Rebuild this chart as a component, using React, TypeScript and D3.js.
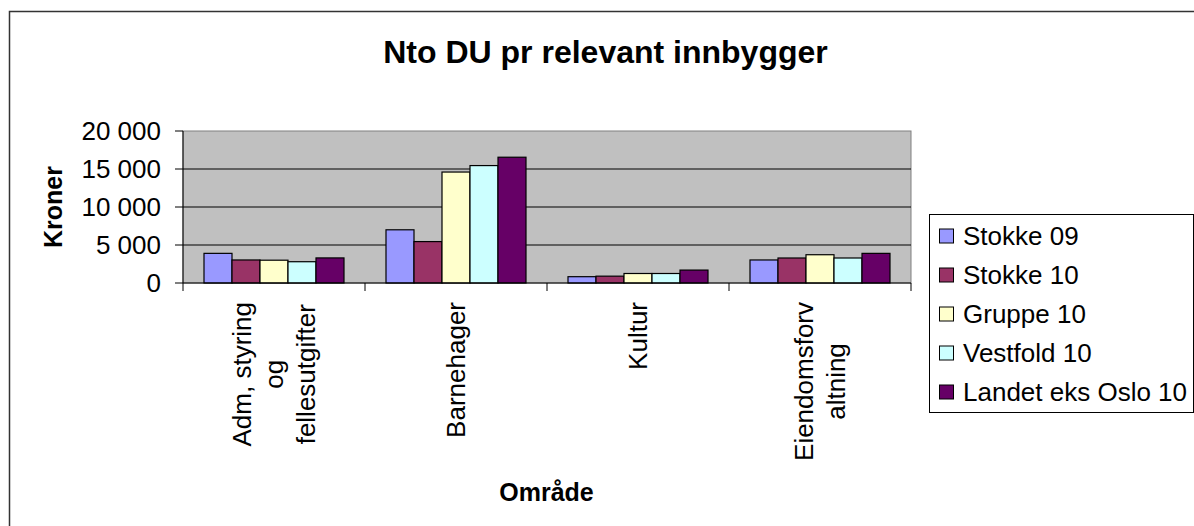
import React from "react";
import * as d3 from "d3";

const title = "Nto DU pr relevant innbygger";
const yAxisTitle = "Kroner";
const xAxisTitle = "Område";

const categories = ["Adm, styring og fellesutgifter", "Barnehager", "Kultur", "Eiendomsforvaltning"];
const categoryLabelLines = [
  ["Adm, styring", "og", "fellesutgifter"],
  ["Barnehager"],
  ["Kultur"],
  ["Eiendomsforv", "altning"],
];

const seriesNames = ["Stokke 09", "Stokke 10", "Gruppe 10", "Vestfold 10", "Landet eks Oslo 10"];
const seriesColors = ["#9999FF", "#993366", "#FFFFCC", "#CCFFFF", "#660066"];

const stokke09 = [3900, 7000, 830, 3030];
const stokke10 = [3030, 5450, 900, 3290];
const gruppe10 = [3000, 14600, 1250, 3720];
const vestfold10 = [2800, 15450, 1250, 3290];
const landet10 = [3300, 16550, 1700, 3900];

const seriesValues = [stokke09, stokke10, gruppe10, vestfold10, landet10];

const yTickValues = [0, 5000, 10000, 15000, 20000];
const yDomain = [0, 20000];

const FONT = "'Liberation Sans', Arial, sans-serif";

function measure(text: string, size: number, bold = false): number {
  const c = document.createElement("canvas").getContext("2d");
  if (!c) return text.length * size * 0.5;
  c.font = `${bold ? "bold " : ""}${size}px ${FONT}`;
  return c.measureText(text).width;
}

export default function App() {
  const W = 1194;
  const H = 526;
  const plot = { left: 183, right: 911, top: 131, bottom: 283 };

  const x = d3.scaleBand<string>().domain(categories).range([plot.left, plot.right]).paddingInner(0).paddingOuter(0);
  const xInner = d3
    .scaleBand<string>()
    .domain(seriesNames)
    .range([0, x.bandwidth()])
    .paddingInner(0)
    .paddingOuter(0.75);
  const y = d3.scaleLinear().domain(yDomain).range([plot.bottom, plot.top]);

  const fmt = (v: number) => d3.format(",")(v).replace(/,/g, " ");

  const labelSize = 26;
  const boundaries = categories.map((c) => x(c) as number).concat([plot.right]);

  const legend = { x: 929.5, y: 214.5, w: 264, h: 198 };

  return (
    <svg
      width={W}
      height={H}
      style={{ position: "absolute", left: 0, top: 0, background: "#fff" }}
      fontFamily={FONT}
    >
      <rect x={0} y={0} width={W} height={H} fill="#fff" />
      {/* outer chart frame */}
      <rect x={9.5} y={11.5} width={W + 20} height={H + 20} fill="none" stroke="#333" strokeWidth={1.5} />

      {/* title */}
      <text x={605.5} y={63} textAnchor="middle" fontSize={32} fontWeight="bold" fill="#000">
        {title}
      </text>

      {/* plot area */}
      <rect
        x={plot.left}
        y={plot.top}
        width={plot.right - plot.left}
        height={plot.bottom - plot.top}
        fill="#C0C0C0"
        stroke="#808080"
        strokeWidth={1}
      />
      {yTickValues
        .filter((v) => v > 0 && v < yDomain[1])
        .map((v) => (
          <line key={"g" + v} x1={plot.left} x2={plot.right} y1={y(v)} y2={y(v)} stroke="#000" strokeWidth={1} />
        ))}

      {/* bars */}
      {categories.map((c, ci) => (
        <g key={c}>
          {seriesNames.map((s, si) => {
            const v = seriesValues[si][ci];
            const bx = (x(c) as number) + (xInner(s) as number);
            return (
              <rect
                key={s}
                x={bx}
                y={y(v)}
                width={xInner.bandwidth()}
                height={y(0) - y(v)}
                fill={seriesColors[si]}
                stroke="#000"
                strokeWidth={1.2}
              />
            );
          })}
        </g>
      ))}

      {/* y axis */}
      <line x1={plot.left} x2={plot.left} y1={plot.top} y2={plot.bottom} stroke="#000" />
      {yTickValues.map((v) => (
        <g key={"t" + v}>
          <line x1={plot.left - 8} x2={plot.left} y1={y(v)} y2={y(v)} stroke="#000" />
          <text x={161} y={y(v)} dy="0.35em" textAnchor="end" fontSize={labelSize} fill="#000">
            {fmt(v)}
          </text>
        </g>
      ))}
      <text
        transform={`translate(61.5, ${(plot.top + plot.bottom) / 2}) rotate(-90)`}
        textAnchor="middle"
        fontSize={25}
        fontWeight="bold"
        fill="#000"
      >
        {yAxisTitle}
      </text>

      {/* x axis */}
      <line x1={plot.left} x2={plot.right} y1={plot.bottom} y2={plot.bottom} stroke="#000" />
      {boundaries.map((bx, i) => (
        <line key={"xt" + i} x1={bx} x2={bx} y1={plot.bottom} y2={plot.bottom + 8} stroke="#000" />
      ))}
      {categories.map((c, ci) => {
        const lines = categoryLabelLines[ci];
        const cx = (x(c) as number) + x.bandwidth() / 2;
        const maxLen = Math.max(...lines.map((l) => measure(l, labelSize)));
        const cy = 302 + maxLen / 2;
        const n = lines.length;
        return (
          <g key={"xl" + c}>
            {lines.map((l, li) => (
              <text
                key={li}
                transform={`translate(${cx + (li - (n - 1) / 2) * 32 + 9}, ${cy}) rotate(-90)`}
                textAnchor="middle"
                fontSize={labelSize}
                fill="#000"
              >
                {l}
              </text>
            ))}
          </g>
        );
      })}
      <text x={546.5} y={501} textAnchor="middle" fontSize={25} fontWeight="bold" fill="#000">
        {xAxisTitle}
      </text>

      {/* legend */}
      <rect x={legend.x} y={legend.y} width={legend.w} height={legend.h} fill="#fff" stroke="#000" strokeWidth={1} />
      {seriesNames.map((s, i) => {
        const cy = 236 + i * 39;
        return (
          <g key={"lg" + s}>
            <rect x={939.5} y={cy - 7} width={14} height={14} fill={seriesColors[i]} stroke="#000" strokeWidth={1} />
            <text x={963} y={cy + 9.3} fontSize={labelSize} fill="#000">
              {s}
            </text>
          </g>
        );
      })}
    </svg>
  );
}
